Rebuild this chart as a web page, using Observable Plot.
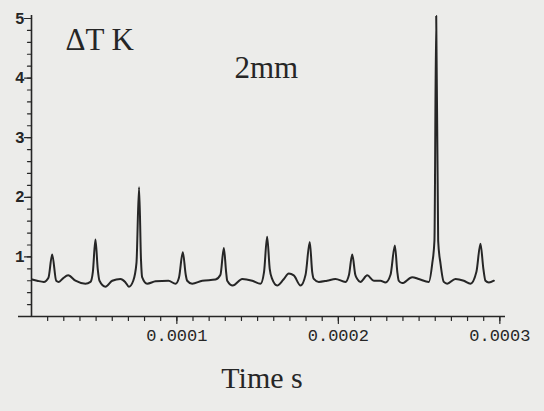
<!DOCTYPE html>
<html><head><meta charset="utf-8">
<script src="https://cdn.jsdelivr.net/npm/d3@7"></script>
<script src="https://cdn.jsdelivr.net/npm/@observablehq/plot@0.6"></script>
<style>
html,body{margin:0;padding:0;background:#ececea;}
#chart svg{background:transparent;}
</style></head><body><div id="chart"></div>
<script>
// Time in seconds
const time = [
  1.04e-5, 1.35e-5, 1.76e-5, 2.05e-5, 2.28e-5, 2.53e-5, 2.69e-5, 2.95e-5, 3.27e-5, 3.72e-5,
  4.34e-5, 4.65e-5, 4.80e-5, 4.96e-5, 5.10e-5, 5.21e-5, 5.58e-5, 6.00e-5, 6.51e-5, 6.80e-5,
  7.03e-5, 7.30e-5, 7.50e-5, 7.66e-5, 7.78e-5, 7.85e-5, 8.16e-5, 8.68e-5, 9.48e-5, 9.92e-5,
  1.013e-4, 1.037e-4, 1.055e-4, 1.064e-4, 1.095e-4, 1.157e-4, 1.239e-4, 1.270e-4, 1.291e-4, 1.305e-4,
  1.312e-4, 1.346e-4, 1.405e-4, 1.467e-4, 1.518e-4, 1.540e-4, 1.559e-4, 1.575e-4, 1.590e-4, 1.621e-4,
  1.660e-4, 1.693e-4, 1.724e-4, 1.766e-4, 1.797e-4, 1.823e-4, 1.838e-4, 1.848e-4, 1.879e-4, 1.930e-4,
  1.982e-4, 2.044e-4, 2.066e-4, 2.086e-4, 2.105e-4, 2.117e-4, 2.137e-4, 2.179e-4, 2.220e-4, 2.261e-4,
  2.292e-4, 2.323e-4, 2.350e-4, 2.365e-4, 2.374e-4, 2.395e-4, 2.457e-4, 2.498e-4, 2.560e-4, 2.581e-4,
  2.595e-4, 2.606e-4, 2.618e-4, 2.633e-4, 2.653e-4, 2.674e-4, 2.725e-4, 2.777e-4, 2.818e-4, 2.855e-4,
  2.880e-4, 2.898e-4, 2.911e-4, 2.932e-4, 2.963e-4
];
// Temperature rise in K
const deltaT = [
  0.62, 0.60, 0.58, 0.65, 1.04, 0.60, 0.58, 0.64, 0.69, 0.60,
  0.55, 0.58, 0.75, 1.29, 0.80, 0.60, 0.50, 0.60, 0.63, 0.58,
  0.50, 0.60, 0.90, 2.17, 0.95, 0.66, 0.55, 0.59, 0.60, 0.55,
  0.65, 1.08, 0.70, 0.60, 0.55, 0.60, 0.62, 0.70, 1.15, 0.75,
  0.60, 0.52, 0.63, 0.60, 0.55, 0.75, 1.34, 0.80, 0.63, 0.52,
  0.62, 0.72, 0.69, 0.52, 0.70, 1.25, 0.75, 0.63, 0.58, 0.60,
  0.63, 0.58, 0.70, 1.04, 0.70, 0.63, 0.58, 0.69, 0.60, 0.60,
  0.57, 0.70, 1.19, 0.75, 0.60, 0.56, 0.66, 0.63, 0.58, 0.88,
  1.27, 5.04, 1.27, 0.88, 0.58, 0.55, 0.63, 0.60, 0.55, 0.75,
  1.22, 0.80, 0.60, 0.57, 0.60
];
const xTickValues = [0.0001, 0.0002, 0.0003];
const xTickLabels = ["0.0001", "0.0002", "0.0003"];
const yTickValues = [1, 2, 3, 4, 5];
const yTickLabels = ["1", "2", "3", "4", "5"];
const yAxisAt = 1e-5;   // time where the vertical axis crosses
const xDomain = [1.95e-6, 3.035e-4];
const yDomain = [0, 5.05];
const yLabel = "\u0394T K";
const xLabel = "Time s";
const curveLabel = "2mm";

const xMinor = d3.range(2, 31).map(i => i * 1e-5);
const yMinor = d3.range(1, 26).map(i => i * 0.2);

const data = time.map((t, i) => ({t, v: deltaT[i]}));
const ink = "#262626";
const mono = "'Liberation Mono', 'DejaVu Sans Mono', monospace";
const serif = "'Liberation Serif', 'DejaVu Serif', serif";
const tickShape = {draw(context, l) { context.moveTo(0, 0); context.lineTo(0, l); }};

const chart = Plot.plot({
  width: 544,
  height: 411,
  marginLeft: 18,
  marginRight: 39,
  marginTop: 15,
  marginBottom: 95,
  style: {background: "transparent", color: ink},
  x: {domain: xDomain, axis: null},
  y: {domain: yDomain, axis: null},
  marks: [
    Plot.ruleY([0], {stroke: ink, strokeWidth: 1.6}),
    Plot.ruleX([yAxisAt], {stroke: ink, strokeWidth: 1.6}),
    Plot.vector(xMinor, {x: d => d, frameAnchor: "bottom", length: 4, anchor: "start", shape: tickShape, stroke: ink, strokeWidth: 1.2}),
    Plot.vector(xTickValues, {x: d => d, frameAnchor: "bottom", length: 7, anchor: "start", shape: tickShape, stroke: ink, strokeWidth: 1.2}),
    Plot.vector(yMinor, {x: () => yAxisAt, y: d => d, rotate: 90, length: 4, anchor: "start", shape: tickShape, stroke: ink, strokeWidth: 1.2}),
    Plot.vector(yTickValues, {x: () => yAxisAt, y: d => d, rotate: 90, length: 7, anchor: "start", shape: tickShape, stroke: ink, strokeWidth: 1.2}),
    Plot.text(xTickValues, {x: d => d, frameAnchor: "bottom", dy: 19, text: (d, i) => xTickLabels[i], fontFamily: mono, fontSize: 17, fill: ink, lineAnchor: "middle"}),
    Plot.text(yTickValues, {x: () => yAxisAt, y: d => d, dx: -7, text: (d, i) => yTickLabels[i], textAnchor: "end", fontFamily: mono, fontSize: 16, fontWeight: "bold", fill: ink, lineAnchor: "middle"}),
    Plot.line(data, {x: "t", y: "v", stroke: ink, strokeWidth: 2, curve: "monotone-x"}),
    Plot.text([yLabel], {frameAnchor: "top-left", dx: 47, dy: 25, text: d => d, textAnchor: "start", lineAnchor: "middle", fontFamily: serif, fontSize: 31, fill: ink}),
    Plot.text([curveLabel], {frameAnchor: "top-left", dx: 216, dy: 53, text: d => d, textAnchor: "start", lineAnchor: "middle", fontFamily: serif, fontSize: 31, fill: ink}),
    Plot.text([xLabel], {frameAnchor: "bottom", dy: 62, text: d => d, lineAnchor: "middle", fontFamily: serif, fontSize: 30, fill: ink})
  ]
});
document.getElementById("chart").appendChild(chart);
</script></body></html>
